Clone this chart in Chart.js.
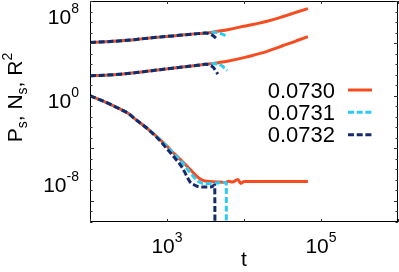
<!DOCTYPE html>
<html><head><meta charset="utf-8">
<script src="https://cdn.jsdelivr.net/npm/chart.js@4.4.0/dist/chart.umd.min.js"></script>
<style>html,body{margin:0;padding:0;background:#fff}</style>
</head><body>
<canvas id="c" width="399" height="272" style="display:block;width:399px;height:272px"></canvas>
<script>
// ---- legend labels (parameter values) ----
const params = ['0.0730', '0.0731', '0.0732'];
const colors = ['#f74c1f', '#2ccbf3', '#142a6c'];

// ---- time axis samples ----
const tRed  = [100,158,251,398,631,1000,1585,2512,3162,3981,5012,6310,7943,10000,12589,15849,19953,25119,31623,39811,50119,67608];
const tCyan = [100,158,251,398,631,1000,1585,2512,3162,3981,4467,5248,6026];
const tNavy = [100,158,251,398,631,1000,1585,2512,3162,3631,3981,4571];

// ---- R^2 ----
const r2Red  = [1.17e5,1.32e5,1.66e5,2.24e5,3.16e5,4.27e5,5.75e5,7.94e5,8.9e5,1.12e6,1.48e6,2.0e6,2.8e6,4.0e6,5.5e6,7.9e6,1.2e7,1.9e7,3.2e7,5.5e7,9.5e7,1.9e8];
const r2Cyan = [1.17e5,1.32e5,1.66e5,2.24e5,3.16e5,4.27e5,5.75e5,7.94e5,8.9e5,1.05e6,1.0e6,7.1e5,4.2e5];
const r2Navy = [1.17e5,1.32e5,1.66e5,2.24e5,3.16e5,4.27e5,5.75e5,7.94e5,8.9e5,7.1e5,5.0e5,2.0e5];

// ---- N_s ----
const nsRed  = [78,89,112,158,240,355,525,794,955,1175,1480,2000,2820,4170,6310,1.0e4,1.65e4,3.0e4,5.6e4,1.0e5,1.86e5,4.2e5];
const nsCyan = [78,89,112,158,240,355,525,794,955,1120,1050,630,235];
const nsNavy = [78,89,112,158,240,355,525,794,955,794,500,112];

// ---- P_s ----
const tPsRed  = [100,126,158,200,251,316,398,501,631,794,1000,1259,1585,1995,2512,2818,3162,3981,5012,5623,6310,7079,8318,9120,10000,20000,67608];
const psRed   = [1,0.5,0.25,0.112,0.05,0.02,5.0e-3,1.41e-3,3.5e-4,7.9e-5,1.6e-5,2.8e-6,5.6e-7,1.0e-7,1.8e-8,1.0e-8,7.9e-9,6.6e-9,6.3e-9,5.4e-9,7.6e-9,6.3e-9,1.1e-8,4.5e-9,7.1e-9,7.1e-9,7.1e-9];
const tPsCyan = [100,126,158,200,251,316,398,501,631,794,1000,1259,1585,1995,2512,2818,3162,3981,4467,5248,5888,5900];
const psCyan  = [1,0.5,0.25,0.112,0.05,0.02,5.0e-3,1.41e-3,3.5e-4,7.9e-5,1.5e-5,2.5e-6,4.5e-7,5.0e-8,7.9e-9,5.0e-9,4.5e-9,4.5e-9,5.0e-9,6.0e-9,5.0e-9,1e-14];
const tPsNavy = [100,126,158,200,251,316,398,501,631,794,1000,1259,1585,1778,1995,2239,2512,3162,3802,4169,4200];
const psNavy  = [1,0.5,0.25,0.112,0.05,0.02,5.0e-3,1.41e-3,3.3e-4,6.3e-5,8.9e-6,1.26e-6,1.4e-7,2.8e-8,6.3e-9,3.5e-9,2.4e-9,2.1e-9,2.2e-9,3.2e-9,1e-14];

// ---- axis ticks ----
const xTickLabels = {3: '3', 5: '5'};
const yTickLabels = {8: '8', 0: '0', '-8': '-8'};

const pts = (xs, ys) => xs.map((x, i) => ({x, y: ys[i]}));
const groups = [
  [[tRed, r2Red], [tRed, nsRed], [tPsRed, psRed]],
  [[tCyan, r2Cyan], [tCyan, nsCyan], [tPsCyan, psCyan]],
  [[tNavy, r2Navy], [tNavy, nsNavy], [tPsNavy, psNavy]]
];
const dashes = [[], [6, 2.7], [6, 2.7]];
const datasets = [];
groups.forEach((g, k) => g.forEach((s, j) => datasets.push({
  label: params[k], data: pts(s[0], s[1]),
  borderColor: colors[k], borderWidth: 3, borderDash: dashes[k],
  pointRadius: 0, fill: false, cubicInterpolationMode: 'monotone', order: 2 - k,
  borderCapStyle: 'butt'
})));

const FONT = '"Liberation Sans", Arial, sans-serif';

const deco = {
  id: 'deco',
  afterDatasetsDraw(chart) {
    const ctx = chart.ctx, a = chart.chartArea;
    const xs = chart.scales.x, ys = chart.scales.y;
    ctx.save();
    ctx.strokeStyle = '#000'; ctx.lineWidth = 1;
    ctx.strokeRect(Math.round(a.left) + 0.5, Math.round(a.top) + 0.5, Math.round(a.right - a.left) - 1, Math.round(a.bottom - a.top) - 1);
    ctx.strokeStyle = '#333';
    ctx.beginPath();
    for (let e = -12; e <= 9; e++) {
      const y = Math.round(ys.getPixelForValue(Math.pow(10, e))) + 0.5;
      const L = (e % 5 === 0) ? 4 : 2.5;
      ctx.moveTo(a.left, y); ctx.lineTo(a.left + L, y);
      ctx.moveTo(a.right, y); ctx.lineTo(a.right - L, y);
    }
    for (let e = 2; e <= 6; e++) {
      const x = Math.round(xs.getPixelForValue(Math.pow(10, e))) + 0.5;
      ctx.moveTo(x, a.bottom); ctx.lineTo(x, a.bottom - 3);
      ctx.moveTo(x, a.top); ctx.lineTo(x, a.top + 3);
    }
    ctx.stroke();

    ctx.fillStyle = '#000';
    const base = '21px ' + FONT, sup = '14px ' + FONT;
    // x tick labels
    Object.keys(xTickLabels).forEach(e => {
      const x = xs.getPixelForValue(Math.pow(10, +e));
      ctx.font = base; const wb = ctx.measureText('10').width;
      ctx.font = sup; const we = ctx.measureText(xTickLabels[e]).width;
      const sx = x - (wb + we) / 2;
      ctx.textAlign = 'left'; ctx.textBaseline = 'alphabetic';
      ctx.font = base; ctx.fillText('10', sx, a.bottom + 31);
      ctx.font = sup; ctx.fillText(xTickLabels[e], sx + wb, a.bottom + 20);
    });
    // y tick labels
    Object.keys(yTickLabels).forEach(e => {
      const y = ys.getPixelForValue(Math.pow(10, +e));
      ctx.font = sup; const we = ctx.measureText(yTickLabels[e]).width;
      ctx.font = base; const wb = ctx.measureText('10').width;
      const rx = a.left - 11;
      ctx.textAlign = 'left'; ctx.textBaseline = 'alphabetic';
      ctx.font = base; ctx.fillText('10', rx - we - wb, y + 12);
      ctx.font = sup; ctx.fillText(yTickLabels[e], rx - we, y + 1);
    });
    // x title
    ctx.font = base; ctx.textAlign = 'center';
    ctx.fillText('t', (a.left + a.right) / 2, 266);
    // y title
    const parts = [['P', base, 0], ['s', sup, 5], [', ', base, 0], ['N', base, 0], ['s', sup, 5], [', ', base, 0], ['R', base, 0], ['2', sup, -10]];
    let tot = 0;
    parts.forEach(p => { ctx.font = p[1]; tot += ctx.measureText(p[0]).width; });
    ctx.translate(22, 97.5 + tot / 2);
    ctx.rotate(-Math.PI / 2);
    ctx.textAlign = 'left';
    let px = 0;
    parts.forEach(p => { ctx.font = p[1]; ctx.fillText(p[0], px, p[2]); px += ctx.measureText(p[0]).width; });
    ctx.setTransform(1, 0, 0, 1, 0, 0);
    // legend
    const legendFont = '22px ' + FONT;
    const baselines = [97.5, 119.8, 142.2];
    params.forEach((lab, k) => {
      ctx.font = legendFont; ctx.textAlign = 'right'; ctx.fillStyle = '#000';
      ctx.fillText(lab, 335, baselines[k]);
      ctx.strokeStyle = colors[k]; ctx.lineWidth = 3; ctx.setLineDash(dashes[k]); ctx.lineCap = 'butt';
      ctx.beginPath(); ctx.moveTo(348, baselines[k] - 7.5); ctx.lineTo(372, baselines[k] - 7.5); ctx.stroke();
      ctx.setLineDash([]);
    });
    ctx.restore();
  }
};

const decades = (lo, hi) => { const r = []; for (let e = lo; e <= hi; e++) r.push({value: Math.pow(10, e)}); return r; };

new Chart(document.getElementById('c'), {
  type: 'line',
  data: {datasets},
  options: {
    responsive: false, animation: false, devicePixelRatio: 1,
    layout: {padding: {top: 1, right: 1, left: 0, bottom: 0}},
    plugins: {legend: {display: false}, tooltip: {enabled: false}},
    elements: {line: {borderJoinStyle: 'round'}},
    scales: {
      x: {type: 'logarithmic', min: 100, max: 1e6,
          afterBuildTicks: s => { s.ticks = decades(2, 6); },
          afterFit: s => { s.height = 50; },
          ticks: {display: false}, grid: {display: false}, border: {display: false}},
      y: {type: 'logarithmic', min: 1e-12, max: 1e9,
          afterBuildTicks: s => { s.ticks = decades(-12, 9); },
          afterFit: s => { s.width = 90; },
          ticks: {display: false}, grid: {display: false}, border: {display: false}}
    }
  },
  plugins: [deco]
});
</script>
</body></html>
